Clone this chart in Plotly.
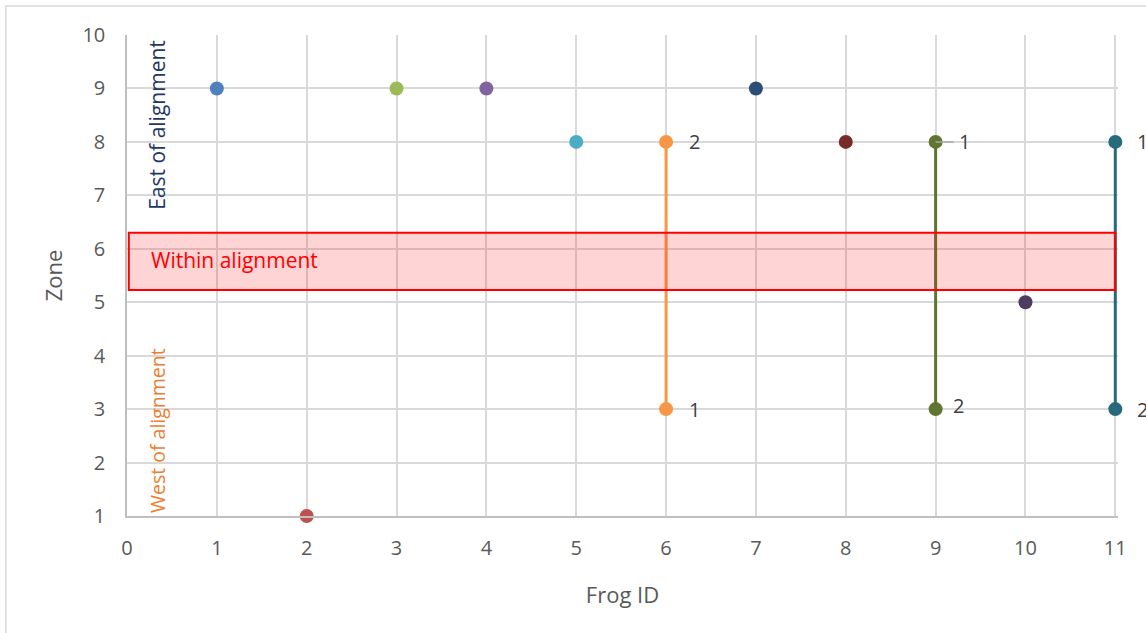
import plotly.graph_objects as go

# Frog detections: zone recorded at each detection, in detection order
frog_ids = [1, 2, 3, 4, 5, 6, 7, 8, 9, 10, 11]
zones = [[9], [1], [9], [9], [8], [3, 8], [9], [8], [8, 3], [5], [8, 3]]
colors = ["#4F81BD", "#C0504D", "#9BBB59", "#8064A2", "#4BACC6", "#F79646",
          "#2C4D75", "#772C2A", "#5F7530", "#4D3B62", "#276A7C"]

# Band marking the alignment corridor
band_low, band_high = 5.23, 6.3

x_ticks = list(range(0, 12))
y_ticks = list(range(1, 11))

FONT = "Open Sans, Lato, sans-serif"
GREY = "#595959"

fig = go.Figure()

for fid, zs, col in zip(frog_ids, zones, colors):
    fig.add_trace(go.Scatter(
        x=[fid] * len(zs), y=zs, mode="lines+markers",
        line=dict(color=col, width=3),
        marker=dict(color=col, size=14),
        showlegend=False, cliponaxis=False, hoverinfo="x+y",
    ))

# Detection-order labels for frogs recorded more than once
label_shift = {6: (28, 0), 9: (27, 0), 11: (27, 0)}
for fid, zs in zip(frog_ids, zones):
    if len(zs) < 2:
        continue
    for i, z in enumerate(zs):
        dx, dy = label_shift[fid]
        if fid == 9 and i == 0:
            fig.add_annotation(
                x=fid, y=z, text=str(i + 1), showarrow=True,
                ax=29, ay=0, arrowhead=0, arrowwidth=1.5, arrowcolor="#A6A6A6",
                standoff=0, borderpad=5,
                font=dict(family=FONT, size=20, color="#404040"),
            )
            continue
        if fid == 9 and i == 1:
            dx, dy = 23, 4
        fig.add_annotation(
            x=fid, y=z, text=str(i + 1), showarrow=False,
            xshift=dx, yshift=dy,
            font=dict(family=FONT, size=20, color="#404040"),
        )

# Alignment band
fig.add_shape(type="rect", xref="x", yref="y", x0=0.02, x1=11,
              y0=band_low, y1=band_high, layer="above",
              fillcolor="rgba(255,0,0,0.17)", line=dict(color="#FF0000", width=2))
fig.add_annotation(x=0.24, y=(band_low + band_high) / 2 + 0.03, text="Within alignment",
                   showarrow=False, xanchor="left",
                   font=dict(family=FONT, size=21, color="#FF0000"))

# Side labels
fig.add_annotation(x=0.334, y=8.32, text="East of alignment", textangle=-90,
                   showarrow=False, font=dict(family=FONT, size=21, color="#1F3864"))
fig.add_annotation(x=0.334, y=2.59, text="West of alignment", textangle=-90,
                   showarrow=False, font=dict(family=FONT, size=19.5, color="#ED7D31"))

# Chart frame
fig.add_shape(type="rect", xref="paper", yref="paper",
              x0=-0.1222, x1=1.05, y0=-0.3, y1=1.0603, layer="below",
              line=dict(color="#D9D9D9", width=1.5), fillcolor="rgba(0,0,0,0)")

fig.update_xaxes(
    range=[0, 11.03], tickvals=x_ticks, ticktext=[str(v) for v in x_ticks],
    showgrid=True, gridcolor="#D9D9D9", gridwidth=1.5,
    showline=True, linecolor="#BFBFBF", linewidth=1.5, zeroline=False,
    ticks="", ticklabelstandoff=13,
    tickfont=dict(family=FONT, size=20, color=GREY),
    title=dict(text="Frog ID", font=dict(family=FONT, size=22, color=GREY), standoff=28),
)
fig.update_yaxes(
    range=[1, 10], tickvals=y_ticks, ticktext=[str(v) for v in y_ticks],
    showgrid=True, gridcolor="#D9D9D9", gridwidth=1.5,
    showline=True, linecolor="#BFBFBF", linewidth=1.5, zeroline=False,
    ticks="", ticklabelstandoff=16,
    tickfont=dict(family=FONT, size=20, color=GREY),
    title=dict(text="Zone", font=dict(family=FONT, size=22, color=GREY), standoff=14),
)

fig.update_layout(
    width=1146, height=633,
    margin=dict(l=127, r=28, t=35, b=117),
    plot_bgcolor="white", paper_bgcolor="white",
    showlegend=False,
)

fig.write_html("out.html")
